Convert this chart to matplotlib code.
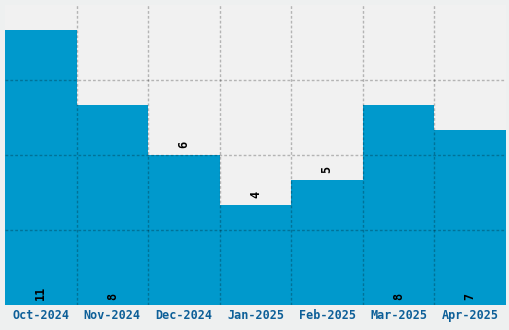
import matplotlib
matplotlib.use("Agg")
import matplotlib.pyplot as plt
import numpy as np

months = ["Oct-2024", "Nov-2024", "Dec-2024", "Jan-2025", "Feb-2025", "Mar-2025", "Apr-2025"]
values = [11, 8, 6, 4, 5, 8, 7]

fig = plt.figure(figsize=(5.1, 3.3), dpi=100)
fig.patch.set_facecolor("#eef0f0")
ax = fig.add_axes([5/510, 25/330, 501/510, 300/330])
ax.set_facecolor("#f1f1f1")

x = np.arange(len(months))
ax.bar(x, values, width=1.0, color="#0099cc", zorder=1)
ax.set_xlim(-0.5, len(months) - 0.5)
ax.set_ylim(0, 12)

ax.set_yticks([3, 6, 9])
ax.set_yticklabels([])
ax.set_xticks(x)
ax.set_xticklabels(months, family="DejaVu Sans Mono", fontweight="bold", fontsize=8.5, color="#0d5f98")
ax.tick_params(axis="both", which="both", length=0, pad=3)
ax.grid(False)
dash = (0, (2, 1.5))
for yv in [3, 6, 9]:
    ax.axhline(yv, color="black", alpha=0.25, lw=1, ls=dash, zorder=3)
for xv in np.arange(0.5, len(months) - 0.5, 1.0):
    ax.axvline(xv, color="black", alpha=0.25, lw=1, ls=dash, zorder=3)
for s in ax.spines.values():
    s.set_visible(False)

for xi, v in zip(x, values):
    if v >= 7:
        ax.annotate(str(v), (xi, 0), xytext=(0, 3.5), textcoords="offset points",
                    rotation=90, ha="center", va="bottom", fontsize=8.5,
                    family="DejaVu Sans Mono", fontweight="bold", color="black", zorder=4)
    else:
        ax.annotate(str(v), (xi, v), xytext=(0, 5), textcoords="offset points",
                    rotation=90, ha="center", va="bottom", fontsize=8.5,
                    family="DejaVu Sans Mono", fontweight="bold", color="black", zorder=4)

fig.savefig("out.png", dpi=100, facecolor=fig.get_facecolor())
